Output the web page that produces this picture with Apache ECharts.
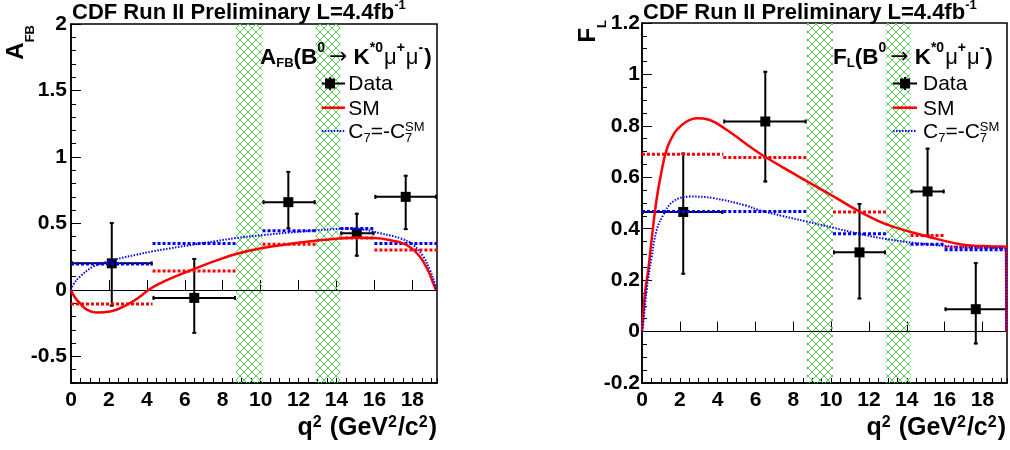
<!DOCTYPE html>
<html><head><meta charset="utf-8">
<script src="https://cdn.jsdelivr.net/npm/echarts@6/dist/echarts.min.js"></script>
<style>html,body{margin:0;padding:0;background:#fff}#c{width:1010px;height:450px}</style>
</head><body><div id="c"></div>
<script>
// ---------- data ----------
const binLo = [0, 4.3, 10.1, 14.2, 16];
const binHi = [4.3, 8.7, 12.9, 16, 19.3];
const vetoLo = [8.7, 12.9];
const vetoHi = [10.1, 14.2];
const xTicks = [0, 2, 4, 6, 8, 10, 12, 14, 16, 18];
const afbTicks = [-0.5, 0, 0.5, 1, 1.5, 2];
const flTicks = [-0.2, 0, 0.2, 0.4, 0.6, 0.8, 1, 1.2];

const afbX = [2.15, 6.5, 11.46, 15.07, 17.65];
const afbY = [0.20, -0.06, 0.66, 0.426, 0.70];
const afbYHi = [0.51, 0.24, 0.895, 0.58, 0.866];
const afbYLo = [-0.125, -0.33, 0.456, 0.25, 0.45];
const afbSMBin = [-0.105, 0.143, 0.343, 0.39, 0.30];
const afbC7Bin = [0.195, 0.35, 0.445, 0.462, 0.35];
const afbSMCurve = [[0,0],[0.2,-0.055],[0.47,-0.1],[0.83,-0.148],[1.35,-0.17],[2.06,-0.163],[2.94,-0.113],[3.64,-0.05],[4.08,0],[4.7,0.05],[5.2,0.083],[6.5,0.158],[7.68,0.222],[8.7,0.27],[10.1,0.315],[11.5,0.345],[12.9,0.37],[13.7,0.382],[15,0.392],[16,0.39],[16.8,0.375],[17.7,0.338],[18.4,0.25],[18.85,0.14],[19.1,0.05],[19.25,0]];
const afbC7Curve = [[0,0],[0.12,0.04],[0.47,0.1],[1.18,0.175],[2.23,0.225],[3.46,0.265],[4.3,0.29],[5.2,0.312],[6.5,0.342],[7.6,0.366],[8.7,0.39],[10.1,0.412],[11.5,0.431],[12.9,0.448],[14.2,0.46],[14.8,0.462],[15.4,0.455],[16.3,0.426],[17.35,0.389],[18.05,0.338],[18.58,0.25],[18.93,0.15],[19.2,0.04],[19.25,0]];

const flX = [2.18, 6.52, 11.5, 15.1, 17.65];
const flY = [0.465, 0.817, 0.308, 0.545, 0.087];
const flYHi = [0.696, 1.014, 0.50, 0.715, 0.27];
const flYLo = [0.221, 0.58, 0.125, 0.37, -0.05];
const flSMBin = [0.69, 0.677, 0.465, 0.374, 0.328];
const flC7Bin = [0.467, 0.467, 0.38, 0.34, 0.318];
const flSMCurve = [[0,0],[0.16,0.15],[0.33,0.24],[0.51,0.357],[0.77,0.513],[1.12,0.655],[1.3,0.707],[1.48,0.74],[1.83,0.784],[2.36,0.817],[2.89,0.83],[3.5,0.825],[4.47,0.785],[5.88,0.71],[6.5,0.68],[8.0,0.615],[8.75,0.583],[10.1,0.527],[11.5,0.467],[13.0,0.415],[15.1,0.37],[16.8,0.34],[18.55,0.331],[19.25,0.33],[19.26,0]];
const flC7Curve = [[0,0],[0.05,0.02],[0.25,0.163],[0.51,0.29],[0.78,0.396],[1.13,0.454],[1.65,0.506],[2.53,0.525],[3.76,0.519],[5.5,0.49],[6.2,0.472],[7.4,0.45],[8.7,0.428],[10.1,0.404],[11.5,0.38],[12.9,0.36],[15,0.34],[17,0.328],[19.25,0.32],[19.26,0]];

// ---------- helpers ----------
const F = "'Liberation Sans', Arial, Helvetica, sans-serif";
function hatch() {
  const c = document.createElement('canvas'); c.width = 8; c.height = 8;
  const g = c.getContext('2d'); g.strokeStyle = '#5ccc5c'; g.lineWidth = 1;
  g.beginPath(); g.moveTo(-1,-1); g.lineTo(9,9); g.moveTo(9,-1); g.lineTo(-1,9); g.stroke();
  return c;
}
const HATCH = hatch();
const MC = document.createElement('canvas').getContext('2d');
function measure(t, font) { MC.font = font; return MC.measureText(t).width; }

// a run of text pieces (for sub/superscripts), vertically centred on yc
function textRun(x, yc, parts, align) {
  let w = 0;
  parts.forEach(p => {
    p.font = (p.bold ? 'bold ' : 'normal ') + p.size + 'px ' + (p.fam || F);
    p.w = measure(p.t, p.font);
    if (!p.stack) w += p.w + (p.gap || 0);
  });
  let cx = align === 'right' ? x - w : x;
  return parts.map(p => {
    const el = { type:'text', z:20, silent:true, style:{ x:cx, y:yc + (p.dy || 0), text:p.t, font:p.font, fill:'#000', align:'left', verticalAlign:'middle' } };
    if (!p.stack) cx += p.w + (p.gap || 0);
    return el;
  });
}

function mainX(gi) {
  return { type:'value', gridIndex:gi, min:0, max:19.3, interval:0.5,
    axisLine:{ onZero:false, lineStyle:{ color:'#000', width:1.5 } },
    axisTick:{ inside:true, length:5, lineStyle:{ color:'#000', width:1 } },
    axisLabel:{ customValues:xTicks, color:'#000', fontFamily:F, fontWeight:'bold', fontSize:21, margin:7 },
    splitLine:{ show:false } };
}
function majX(gi) {
  return { type:'value', gridIndex:gi, min:0, max:19.3,
    axisLine:{ show:false }, axisLabel:{ show:false }, splitLine:{ show:false },
    axisTick:{ show:true, inside:true, length:10, customValues:xTicks, lineStyle:{ color:'#000', width:1 } } };
}
function mainY(gi, mn, mx, iv, ticks, margin) {
  return { type:'value', gridIndex:gi, min:mn, max:mx, interval:iv,
    axisLine:{ onZero:false, lineStyle:{ color:'#000', width:1.5 } },
    axisTick:{ inside:true, length:5, lineStyle:{ color:'#000', width:1 } },
    axisLabel:{ customValues:ticks, color:'#000', fontFamily:F, fontWeight:'bold', fontSize:21, margin:margin },
    splitLine:{ show:false } };
}
function majY(gi, mn, mx, ticks) {
  return { type:'value', gridIndex:gi, min:mn, max:mx,
    axisLine:{ show:false }, axisLabel:{ show:false }, splitLine:{ show:false },
    axisTick:{ show:true, inside:true, length:10, customValues:ticks, lineStyle:{ color:'#000', width:1 } } };
}
function hostSeries(ai) {
  return { type:'line', xAxisIndex:ai, yAxisIndex:ai, z:1, silent:true, symbol:'none',
    data:[[0,0]], lineStyle:{ opacity:0 },
    markArea:{ silent:true, itemStyle:{ color:{ image:HATCH, repeat:'repeat' } },
      data: vetoLo.map((l,i) => [{ xAxis:l }, { xAxis:vetoHi[i] }]) },
    markLine:{ silent:true, symbol:['none','none'], label:{ show:false },
      lineStyle:{ color:'#000', width:1.2, type:'solid' }, data:[{ yAxis:0 }] } };
}
function binSeries(ai, vals, color) {
  return { type:'custom', xAxisIndex:ai, yAxisIndex:ai, z:4, silent:true,
    data: vals.map((v,i) => [binLo[i], binHi[i], v]),
    encode:{ x:[0,1], y:2 },
    renderItem: (p, api) => {
      const a = api.coord([api.value(0), api.value(2)]);
      const b = api.coord([api.value(1), api.value(2)]);
      return { type:'line', shape:{ x1:a[0], y1:a[1], x2:b[0], y2:b[1] },
        style:{ stroke:color, lineWidth:3, lineDash:[3,2] } };
    } };
}
function curveSeries(ai, pts, color, dotted, z) {
  return { type:'line', xAxisIndex:ai, yAxisIndex:ai, z:z, silent:true, symbol:'none',
    smooth:0.4, data:pts,
    lineStyle: dotted ? { color:color, width:2, type:[1.5,1.5] } : { color:color, width:2.5 } };
}
function dataSeries(ai, xs, ys, lo, hi) {
  return { type:'custom', xAxisIndex:ai, yAxisIndex:ai, z:3, silent:true,
    data: xs.map((x,i) => [x, ys[i], binLo[i], binHi[i], lo[i], hi[i]]),
    encode:{ x:[0,2,3], y:[1,4,5] },
    renderItem: (p, api) => {
      const x = api.value(0), y = api.value(1);
      const c = api.coord([x,y]);
      const l = api.coord([api.value(2), y]), r = api.coord([api.value(3), y]);
      const b = api.coord([x, api.value(4)]), t = api.coord([x, api.value(5)]);
      const st = { stroke:'#000', lineWidth:2 };
      return { type:'group', children:[
        { type:'line', shape:{ x1:l[0], y1:l[1], x2:r[0], y2:r[1] }, style:st },
        { type:'line', shape:{ x1:t[0], y1:t[1], x2:b[0], y2:b[1] }, style:st },
        { type:'line', shape:{ x1:l[0]+1, y1:l[1]-2, x2:l[0]+1, y2:l[1]+2 }, style:st },
        { type:'line', shape:{ x1:r[0]-1, y1:r[1]-2, x2:r[0]-1, y2:r[1]+2 }, style:st },
        { type:'line', shape:{ x1:t[0]-2, y1:t[1]+1, x2:t[0]+2, y2:t[1]+1 }, style:st },
        { type:'line', shape:{ x1:b[0]-2, y1:b[1]-1, x2:b[0]+2, y2:b[1]-1 }, style:st },
        { type:'rect', shape:{ x:c[0]-5, y:c[1]-5, width:10, height:10 }, style:{ fill:'#000' } }
      ] };
    } };
}

// ---------- texts ----------
function titleParts() {
  return [{ t:'CDF Run II Preliminary L=4.4fb', size:22, bold:true }, { t:'-1', size:13, bold:true, dy:-6.6 }];
}
function headParts(first, sub) {
  const S = -9;
  return [
    { t:first, size:22.5, bold:true }, { t:sub, size:13, bold:true, dy:5.5 },
    { t:'(B', size:22.5, bold:true }, { t:'0', size:14, bold:true, dy:S, gap:4 },
    { t:'\u2192', size:22, fam:'DejaVu Sans', gap:6 },
    { t:'K', size:22.5, bold:true }, { t:'*0', size:14, bold:true, dy:S, gap:1 },
    { t:'\u03bc', size:22 }, { t:'+', size:14, bold:true, dy:S, gap:1 },
    { t:'\u03bc', size:22 }, { t:'-', size:14, bold:true, dy:S, gap:1 },
    { t:')', size:22.5, bold:true }
  ];
}
function xTitleParts() {
  const S = -5.5;
  return [
    { t:'q', size:25, bold:true }, { t:'2', size:16, bold:true, dy:S, gap:1 },
    { t:' (GeV', size:25, bold:true }, { t:'2', size:16, bold:true, dy:S, gap:1 },
    { t:'/c', size:25, bold:true }, { t:'2', size:16, bold:true, dy:S, gap:1 },
    { t:')', size:25, bold:true }
  ];
}
function yTitle(x, y, main, sub) {
  return { type:'group', x:x, y:y, rotation:Math.PI/2, silent:true,
    children: textRun(0, 0, [{ t:main, size:24, bold:true }, { t:sub, size:13, bold:true, dy:13.5 }], 'right') };
}
function legend(mx, lx0, lx1, tx) {
  return [
    { type:'line', z:20, shape:{ x1:lx0, y1:83.5, x2:lx1, y2:83.5 }, style:{ stroke:'#000', lineWidth:2 } },
    { type:'line', z:20, shape:{ x1:mx, y1:77, x2:mx, y2:90 }, style:{ stroke:'#000', lineWidth:2 } },
    { type:'rect', z:20, shape:{ x:mx-5, y:78.5, width:10, height:10 }, style:{ fill:'#000' } },
    { type:'line', z:20, shape:{ x1:lx0, y1:107.7, x2:lx1, y2:107.7 }, style:{ stroke:'#ff0000', lineWidth:2.5 } },
    { type:'line', z:20, shape:{ x1:lx0, y1:131, x2:lx1, y2:131 }, style:{ stroke:'#0000ff', lineWidth:2, lineDash:[1.5,1.5] } }
  ].concat(
    textRun(tx, 84, [{ t:'Data', size:21 }]),
    textRun(tx, 109, [{ t:'SM', size:21 }]),
    textRun(tx, 132.5, [
      { t:'C', size:21 }, { t:'7', size:13, dy:5.5 }, { t:'=-C', size:21 },
      { t:'SM', size:13, dy:-5.5, stack:true }, { t:'7', size:13, dy:5.5 }
    ])
  );
}

const graphics = [].concat(
  textRun(72, 12.5, titleParts()),
  textRun(643, 12.5, titleParts()),
  [yTitle(16.7, 25, 'A', 'FB'), yTitle(588.5, 20, 'F', 'L')],
  textRun(437, 428.3, xTitleParts(), 'right'),
  textRun(1006, 428.3, xTitleParts(), 'right'),
  textRun(260, 57.5, headParts('A', 'FB')),
  textRun(833, 57.5, headParts('F', 'L')),
  legend(330, 321.7, 345, 348.3),
  legend(905, 893, 917, 923)
);

const chart = echarts.init(document.getElementById('c'), null, { renderer:'canvas' });
chart.setOption({
  animation:false,
  backgroundColor:'#ffffff',
  grid:[
    { left:71, top:24, width:366, height:359, show:true, borderColor:'#000', borderWidth:1.5, backgroundColor:'transparent', outerBoundsMode:'none' },
    { left:642, top:23, width:365, height:360, show:true, borderColor:'#000', borderWidth:1.5, backgroundColor:'transparent', outerBoundsMode:'none' },
    { left:71, top:24, width:366, height:359, show:false, outerBoundsMode:'none' },
    { left:642, top:23, width:365, height:360, show:false, outerBoundsMode:'none' }
  ],
  xAxis:[ mainX(0), mainX(1), majX(2), majX(3) ],
  yAxis:[ mainY(0, -0.7, 2, 0.1, afbTicks, 4), mainY(1, -0.2, 1.2, 0.05, flTicks, 2), majY(2, -0.7, 2, afbTicks), majY(3, -0.2, 1.2, flTicks) ],
  series:[
    hostSeries(0), hostSeries(1),
    dataSeries(0, afbX, afbY, afbYLo, afbYHi),
    dataSeries(1, flX, flY, flYLo, flYHi),
    binSeries(0, afbSMBin, '#ff0000'), binSeries(0, afbC7Bin, '#0000ff'),
    binSeries(1, flSMBin, '#ff0000'), binSeries(1, flC7Bin, '#0000ff'),
    curveSeries(0, afbSMCurve, '#ff0000', false, 5), curveSeries(0, afbC7Curve, '#0000ff', true, 6),
    curveSeries(1, flSMCurve, '#ff0000', false, 5), curveSeries(1, flC7Curve, '#0000ff', true, 6)
  ],
  graphic: graphics
});
</script></body></html>
